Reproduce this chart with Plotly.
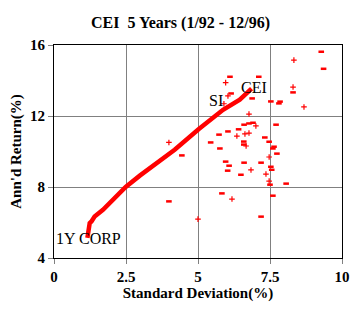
import plotly.graph_objects as go

# Efficient frontier curve
frontier_sd = [1.16, 1.20, 1.24, 1.30, 1.41, 1.70, 1.99, 2.49, 2.98, 3.56, 4.19, 5.03, 5.41, 5.87, 6.45, 6.86]
frontier_ret = [5.13, 5.55, 5.97, 6.06, 6.34, 6.72, 7.19, 8.00, 8.64, 9.35, 10.10, 11.27, 11.79, 12.35, 12.92, 13.54]

# Individual funds drawn as short dashes
dash_sd = [9.28, 9.36, 6.11, 7.11, 8.30, 6.15, 6.88, 7.53, 7.85, 7.81, 7.71, 6.77, 6.91, 6.60,
           6.41, 6.04, 5.73, 7.32, 5.44, 6.59, 7.47, 6.59, 5.76, 7.64, 7.60, 7.74, 5.96, 6.60,
           7.19, 6.08, 7.53, 6.03, 7.56, 6.49, 7.50, 8.06, 5.83, 7.60, 7.19, 4.44, 3.99]
dash_ret = [15.62, 14.66, 14.21, 14.21, 13.33, 13.27, 12.99, 12.82, 12.81, 12.71, 11.51, 11.58, 11.62, 11.51,
            11.25, 11.13, 10.95, 10.79, 10.51, 10.56, 10.55, 10.39, 10.17, 10.27, 10.17, 9.88, 9.43, 9.37,
            9.37, 9.20, 9.14, 8.92, 8.97, 8.69, 8.13, 8.19, 7.64, 7.51, 6.33, 9.78, 7.19]

# Individual funds drawn as plus signs
plus_sd = [8.33, 5.96, 8.30, 6.04, 5.90, 8.68, 6.77, 7.01, 6.35, 6.63, 6.77, 6.67, 7.47, 6.84,
           7.36, 7.47, 6.18, 5.00, 3.99]
plus_ret = [15.15, 13.88, 13.63, 13.13, 12.69, 12.51, 12.11, 11.44, 10.87, 10.99, 11.04, 10.31, 9.69, 8.96,
            8.73, 8.33, 7.32, 6.19, 10.51]

x_ticks = [0, 2.5, 5, 7.5, 10]
x_labels = ["0", "2.5", "5", "7.5", "10"]
y_ticks = [4, 8, 12, 16]
y_labels = ["4", "8", "12", "16"]

labels = ["1Y CORP", "SI", "CEI"]
label_sd = [1.19, 5.64, 6.93]
label_ret = [5.09, 12.89, 13.62]

RED = "#FF0000"
FONT = "Times New Roman, Liberation Serif, serif"

fig = go.Figure()
fig.add_trace(go.Scatter(x=frontier_sd, y=frontier_ret, mode="lines",
                         line=dict(color=RED, width=4.5),
                         hoverinfo="skip", showlegend=False))
fig.add_trace(go.Scatter(x=dash_sd, y=dash_ret, mode="markers",
                         marker=dict(symbol="line-ew", size=4, color=RED,
                                     line=dict(color=RED, width=2.5)),
                         showlegend=False))
fig.add_trace(go.Scatter(x=plus_sd, y=plus_ret, mode="markers",
                         marker=dict(symbol="cross-thin", size=4, color=RED,
                                     line=dict(color=RED, width=1.2)),
                         showlegend=False))

for t, xv, yv in zip(labels, label_sd, label_ret):
    fig.add_annotation(x=xv, y=yv, text=t, showarrow=False,
                       font=dict(family=FONT, size=16, color="black"))

fig.update_layout(
    width=361, height=319,
    margin=dict(l=54, r=19, t=45, b=61),
    paper_bgcolor="white", plot_bgcolor="white",
    title=dict(text="<b>CEI  5 Years (1/92 - 12/96)</b>", x=0.5, xanchor="center",
               y=1 - 22 / 319, yanchor="middle",
               font=dict(family=FONT, size=16, color="black")),
    font=dict(family=FONT, color="black"),
)
fig.update_xaxes(range=[0, 10], tickvals=x_ticks, ticktext=["<b>%s</b>" % s for s in x_labels],
                 showgrid=True, gridcolor="#808080", gridwidth=1,
                 showline=True, linecolor="black", linewidth=1, mirror=True,
                 ticks="outside", ticklen=5, tickcolor="#808080",
                 tickfont=dict(family=FONT, size=15, color="black"),
                 title=dict(text="<b>Standard Deviation(%)</b>", standoff=2,
                            font=dict(family=FONT, size=15, color="black")),
                 zeroline=False)
fig.update_yaxes(range=[4, 16], tickvals=y_ticks, ticktext=["<b>%s</b>" % s for s in y_labels],
                 showgrid=True, gridcolor="#808080", gridwidth=1,
                 showline=True, linecolor="black", linewidth=1, mirror=True,
                 ticks="outside", ticklen=5, tickcolor="#808080",
                 tickfont=dict(family=FONT, size=15, color="black"),
                 title=dict(text="<b>Ann'd Return(%)</b>", standoff=4,
                            font=dict(family=FONT, size=15, color="black")),
                 zeroline=False)

fig.write_html("out.html")
